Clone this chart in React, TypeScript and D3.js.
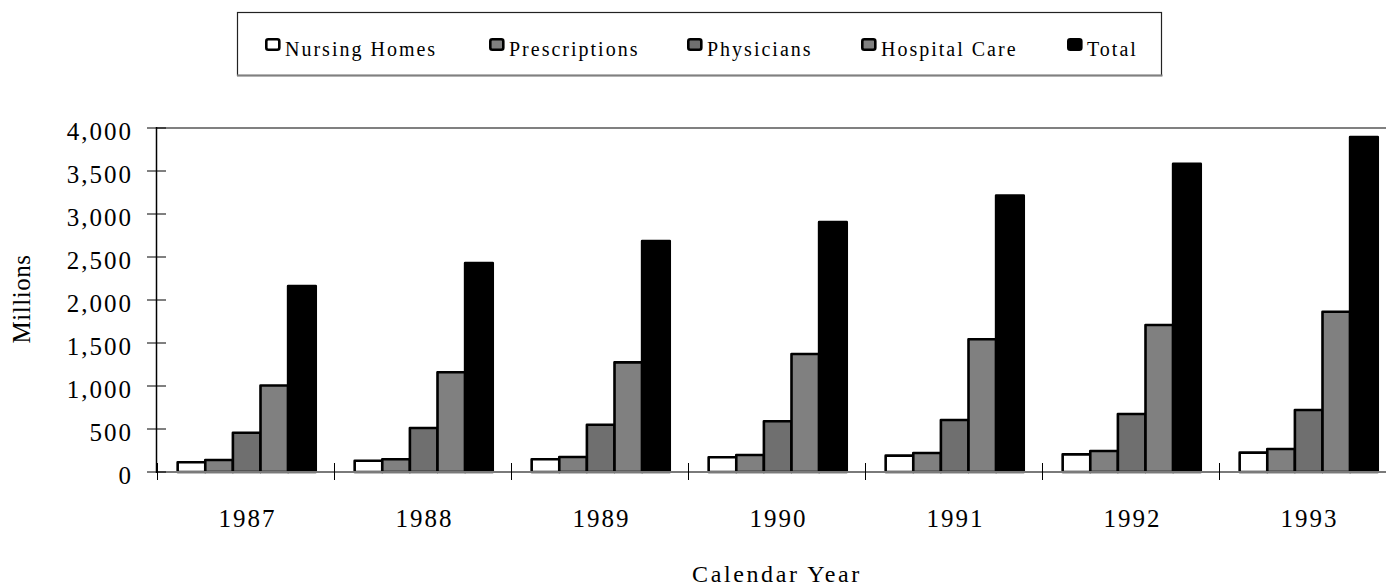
import React from "react";
import * as d3 from "d3";

const years = ["1987", "1988", "1989", "1990", "1991", "1992", "1993"];
const seriesNames = ["Nursing Homes", "Prescriptions", "Physicians", "Hospital Care", "Total"];
const nursingHomes = [113, 131, 148, 171, 190, 205, 225];
const prescriptions = [140, 148, 174, 198, 221, 244, 267];
const physicians = [457, 512, 550, 590, 605, 674, 721];
const hospitalCare = [1005, 1160, 1275, 1372, 1543, 1709, 1864];
const total = [2163, 2430, 2686, 2905, 3215, 3585, 3895];
const yTicks = [0, 500, 1000, 1500, 2000, 2500, 3000, 3500, 4000];
const seriesColors = ["#ffffff", "#808080", "#6f6f6f", "#808080", "#000000"];

const seriesValues = [nursingHomes, prescriptions, physicians, hospitalCare, total];

const FONT = "'Liberation Serif', 'Times New Roman', serif";

export default function App() {
  const W = 1386;
  const H = 586;
  const left = 157;
  const right = 1396;
  const top = 128;
  const bottom = 472;

  const x = d3.scaleBand<string>().domain(years).range([left, right]).padding(0);
  const xs = d3
    .scaleBand<string>()
    .domain(seriesNames)
    .range([0, x.bandwidth()])
    .paddingInner(0)
    .paddingOuter(0.705);
  const y = d3.scaleLinear().domain([0, 4000]).range([bottom, top]);
  const fmt = d3.format(",");

  const legendX = [265, 489, 687, 861, 1067];
  const axisFont = 25;
  const axisSpacing = 2;

  return (
    <svg
      width={W}
      height={H}
      style={{ position: "absolute", left: 0, top: 0, background: "#fff" }}
      fontFamily={FONT}
    >
      <rect x={0} y={0} width={W} height={H} fill="#fff" />
      {/* Legend */}
      <rect x={237.5} y={12.5} width={924} height={63} fill="#fff" stroke="#222" strokeWidth={1.2} />
      <line x1={237} x2={1162.5} y1={75.5} y2={75.5} stroke="#808080" strokeWidth={2} />
      {seriesNames.map((s, i) => (
        <g key={s}>
          <rect
            x={legendX[i] + 1.3}
            y={39.3}
            width={13}
            height={10.5}
            rx={2}
            fill={seriesColors[i]}
            stroke="#000"
            strokeWidth={2.6}
          />
          <text
            x={legendX[i] + 20}
            y={56}
            fontSize={20}
            letterSpacing={2}
            fill="#000"
          >
            {s}
          </text>
        </g>
      ))}

      {/* top gridline */}
      <line x1={left} x2={right} y1={y(4000)} y2={y(4000)} stroke="#808080" strokeWidth={2} />

      {/* bars */}
      {years.map((yr, i) => (
        <g key={yr} transform={`translate(${x(yr)},0)`}>
          {seriesNames.map((s, j) => {
            const v = seriesValues[j][i];
            return (
              <rect
                key={s}
                x={(xs(s) as number) + 1.2}
                y={y(v)}
                width={xs.bandwidth()}
                height={y(0) - y(v)}
                fill={seriesColors[j]}
                stroke="#000"
                strokeWidth={2.6}
                strokeLinejoin="round"
              />
            );
          })}
        </g>
      ))}

      {/* x axis */}
      <line x1={left} x2={right} y1={bottom} y2={bottom} stroke="#7a7a7a" strokeWidth={2} />
      {years.map((yr) => (
        <line
          key={"t" + yr}
          x1={(x(yr) as number) + 0.5}
          x2={(x(yr) as number) + 0.5}
          y1={bottom - 9}
          y2={bottom + 8}
          stroke="#000"
          strokeWidth={1}
        />
      ))}
      {years.map((yr) => (
        <text
          key={"l" + yr}
          x={(x(yr) as number) + x.bandwidth() / 2 + 1 + axisSpacing / 2}
          y={527}
          fontSize={axisFont}
          letterSpacing={axisSpacing}
          textAnchor="middle"
          fill="#000"
        >
          {yr}
        </text>
      ))}

      {/* y axis */}
      <line x1={left - 0.5} x2={left - 0.5} y1={top - 1} y2={bottom + 1} stroke="#000" strokeWidth={1.5} />
      {yTicks.map((t) => (
        <g key={"y" + t}>
          <line x1={left - 10} x2={left + 9} y1={y(t)} y2={y(t)} stroke="#000" strokeWidth={1} />
          <text
            x={131 + axisSpacing}
            y={y(t) + 12}
            fontSize={axisFont}
            letterSpacing={axisSpacing}
            textAnchor="end"
            fill="#000"
          >
            {fmt(t)}
          </text>
        </g>
      ))}

      {/* axis titles */}
      <text
        transform={`translate(30, ${(top + bottom) / 2 - 1}) rotate(-90)`}
        fontSize={axisFont}
        letterSpacing={0.5}
        textAnchor="middle"
        fill="#000"
      >
        Millions
      </text>
      <text x={777} y={582} fontSize={24} letterSpacing={2.6} textAnchor="middle" fill="#000">
        Calendar Year
      </text>
    </svg>
  );
}
